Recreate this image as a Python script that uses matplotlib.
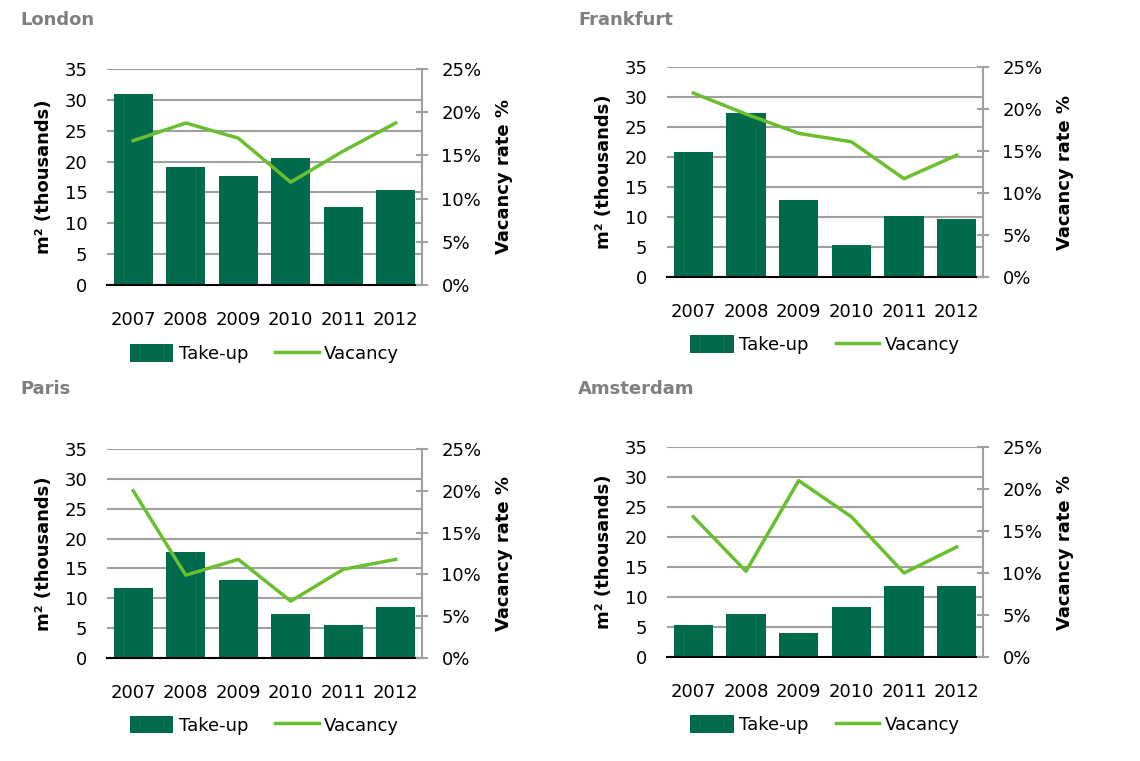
import matplotlib.pyplot as plt
from matplotlib.ticker import FuncFormatter
import numpy as np

years = ['2007', '2008', '2009', '2010', '2011', '2012']
cities = ['London', 'Frankfurt', 'Paris', 'Amsterdam']

# take-up, m2 (thousands)
takeup_london = [30.9, 19.1, 17.7, 20.5, 12.6, 15.4]
takeup_frankfurt = [20.9, 27.3, 12.8, 5.3, 10.2, 9.65]
takeup_paris = [11.8, 17.7, 13.0, 7.4, 5.6, 8.6]
takeup_amsterdam = [5.4, 7.2, 4.0, 8.4, 11.8, 11.8]

# vacancy rate, %
vacancy_london = [16.7, 18.75, 17.0, 11.9, 15.5, 18.75]
vacancy_frankfurt = [21.9, 19.4, 17.1, 16.1, 11.7, 14.5]
vacancy_paris = [20.0, 9.9, 11.8, 6.8, 10.6, 11.8]
vacancy_amsterdam = [16.7, 10.2, 21.0, 16.7, 10.0, 13.1]

takeup = [takeup_london, takeup_frankfurt, takeup_paris, takeup_amsterdam]
vacancy = [vacancy_london, vacancy_frankfurt, vacancy_paris, vacancy_amsterdam]

bar_col = '#006b4c'
line_col = '#6abf2e'
grid_col = '#a0a0a0'

plt.rcParams['font.family'] = ['DejaVu Sans']

fig = plt.figure(figsize=(11.4, 7.61), dpi=100)

W, H = 1140, 761
# axes boxes in pixels: left, top, right, bottom
boxes = [(107, 69, 422, 285), (667, 67, 983, 277),
         (107, 449, 422, 658), (667, 447, 983, 657)]
titles_xy = [(20, 20), (578, 20), (20, 389), (578, 389)]

x = np.arange(len(years))

for i in range(4):
    l, t, r, b = boxes[i]
    ax = fig.add_axes([l / W, 1 - b / H, (r - l) / W, (b - t) / H])
    bars = ax.bar(x, takeup[i], width=0.75, color=bar_col, zorder=3, label='Take-up')
    ax.set_ylim(0, 35)
    ax.set_yticks(range(0, 36, 5))
    ax.set_xlim(-0.5, 5.5)
    ax.set_xticks(x)
    ax.set_xticklabels(years)
    ax.grid(axis='y', color=grid_col, lw=1.5, zorder=0)
    for s in ['top', 'left', 'right']:
        ax.spines[s].set_visible(False)
    ax.spines['bottom'].set_color('black')
    ax.spines['bottom'].set_linewidth(1.5)
    ax.spines['bottom'].set_zorder(5)
    ax.tick_params(axis='both', length=0, labelsize=13)
    ax.tick_params(axis='x', pad=19)
    ax.tick_params(axis='y', pad=14)
    ax.set_ylabel('m² (thousands)', fontsize=13, fontweight='bold', labelpad=8)

    ax2 = ax.twinx()
    ln, = ax2.plot(x, vacancy[i], color=line_col, lw=2.5, zorder=4, label='Vacancy')
    ax2.set_ylim(0, 25)
    ax2.set_yticks(range(0, 26, 5))
    ax2.yaxis.set_major_formatter(FuncFormatter(lambda v, p: '%d%%' % v))
    for s in ['top', 'left', 'bottom']:
        ax2.spines[s].set_visible(False)
    ax2.spines['right'].set_color(grid_col)
    ax2.spines['right'].set_linewidth(1.5)
    ax2.tick_params(axis='y', direction='inout', length=8, width=1.5, color=grid_col,
                    labelsize=13, pad=10)
    ax2.set_ylabel('Vacancy rate %', fontsize=13, fontweight='bold', labelpad=10)

    ax.legend([bars, ln], ['Take-up', 'Vacancy'], loc='upper center',
              bbox_to_anchor=(0.5, -0.2), ncol=2, frameon=False, fontsize=13,
              handlelength=2.4, handleheight=1.1, columnspacing=1.5, handletextpad=0.3)

    tx, ty = titles_xy[i]
    fig.text(tx / W, 1 - ty / H, cities[i], fontsize=13, fontweight='bold',
             color='#7f7f7f', va='center', ha='left')

fig.savefig('out.png', dpi=100)
